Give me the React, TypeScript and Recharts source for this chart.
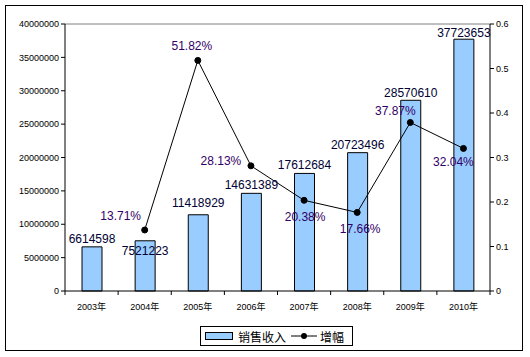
import {
  ComposedChart,
  Bar,
  Line,
  XAxis,
  YAxis,
  LabelList,
  ReferenceLine,
} from "recharts";

const years = ["2003年", "2004年", "2005年", "2006年", "2007年", "2008年", "2009年", "2010年"];
const revenue = [6614598, 7521223, 11418929, 14631389, 17612684, 20723496, 28570610, 37723653];
const growth = [null, 0.1371, 0.5182, 0.2813, 0.2038, 0.1766, 0.3787, 0.3204];
const leftTicks = [0, 5000000, 10000000, 15000000, 20000000, 25000000, 30000000, 35000000, 40000000];
const rightTicks = [0, 0.1, 0.2, 0.3, 0.4, 0.5, 0.6];

const data = years.map((year, i) => ({ year, revenue: revenue[i], growth: growth[i] }));

// label nudges, matching the hand-placed labels of the original
const barLabelDy = [-8, 10, -12, -8, -8, -8, -7, -6];
const pctLabelOffset = [
  [0, 0],
  [-24, -14],
  [-6, -14],
  [-30, -5],
  [1, 17],
  [3, 17],
  [-15, -11],
  [-10, 14],
];

const W = 530;
const H = 357;
const LEFT_W = 65;
const RIGHT_W = 40;
const HALF_BAND = (W - LEFT_W - RIGHT_W) / years.length / 2;

const FONT = "'Liberation Sans', Arial, 'Noto Sans CJK SC', sans-serif";
const tickStyle = { fill: "#000", fontSize: 9, fontFamily: FONT };

const YearTick = (props: any) => {
  const { x, y, payload, index } = props;
  return (
    <g>
      <line x1={x - HALF_BAND} y1={y} x2={x - HALF_BAND} y2={y + 4} stroke="#000" />
      {index === years.length - 1 && (
        <line x1={x + HALF_BAND} y1={y} x2={x + HALF_BAND} y2={y + 4} stroke="#000" />
      )}
      <text x={x} y={y + 19} textAnchor="middle" {...tickStyle}>
        {payload.value}
      </text>
    </g>
  );
};

const BarLabel = (props: any) => {
  const { x, y, width, value, index } = props;
  return (
    <text
      x={x + width / 2}
      y={y + barLabelDy[index]}
      textAnchor="middle"
      dominantBaseline="central"
      fontSize={12}
      fontFamily={FONT}
      fill="#000033"
    >
      {value}
    </text>
  );
};

const PctLabel = (props: any) => {
  const { x, y, value, index } = props;
  if (value == null) return null;
  const [dx, dy] = pctLabelOffset[index];
  return (
    <text
      x={x + dx}
      y={y + dy}
      textAnchor="middle"
      dominantBaseline="central"
      fontSize={12}
      fontFamily={FONT}
      fill="#330066"
    >
      {(value * 100).toFixed(2)}%
    </text>
  );
};

const LegendBox = () => (
  <div
    style={{
      position: "absolute",
      left: 200,
      top: 326,
      display: "flex",
      alignItems: "center",
      border: "1px solid #000",
      height: 20,
      width: 153,
      boxSizing: "border-box",
      fontFamily: FONT,
      fontSize: 12,
      background: "#fff",
    }}
  >
    <span
      style={{
        display: "inline-block",
        width: 26,
        height: 6,
        background: "#99CCFF",
        border: "1px solid #000",
        marginLeft: 4,
        marginRight: 5,
      }}
    />
    <span>销售收入</span>
    <svg width={26} height={10} style={{ marginLeft: 5, marginRight: 3 }}>
      <line x1={0} y1={5} x2={26} y2={5} stroke="#000" strokeWidth={1} />
      <circle cx={13} cy={5} r={3} fill="#000" />
    </svg>
    <span>增幅</span>
  </div>
);

export default function App() {
  return (
    <div style={{ position: "fixed", left: 0, top: 0, width: W, height: H, background: "#fff" }}>
      <div
        style={{
          position: "absolute",
          left: 5,
          top: 5,
          width: 516,
          height: 344,
          border: "1px solid #000",
        }}
      />
      <ComposedChart
        width={W}
        height={H}
        data={data}
        margin={{ top: 24, right: 0, left: 0, bottom: 36 }}
        style={{ position: "absolute", left: 0, top: 0 }}
      >
        <XAxis
          dataKey="year"
          height={30}
          tick={YearTick}
          tickLine={false}
          tickSize={0}
          tickMargin={0}
          interval={0}
          axisLine={{ stroke: "#000" }}
        />
        <YAxis
          yAxisId="left"
          width={LEFT_W}
          domain={[0, 40000000]}
          ticks={leftTicks}
          interval={0}
          tick={tickStyle}
          tickSize={4}
          axisLine={{ stroke: "#000" }}
          tickLine={{ stroke: "#000" }}
        />
        <YAxis
          yAxisId="right"
          orientation="right"
          width={RIGHT_W}
          domain={[0, 0.6]}
          ticks={rightTicks}
          interval={0}
          tick={tickStyle}
          tickSize={4}
          axisLine={{ stroke: "#000" }}
          tickLine={{ stroke: "#000" }}
        />
        <ReferenceLine yAxisId="left" y={40000000} stroke="#808080" />
        <Bar
          yAxisId="left"
          dataKey="revenue"
          name="销售收入"
          barSize={20}
          fill="#99CCFF"
          stroke="#000"
          strokeWidth={1}
          isAnimationActive={false}
        >
          <LabelList dataKey="revenue" content={BarLabel} />
        </Bar>
        <Line
          yAxisId="right"
          dataKey="growth"
          name="增幅"
          stroke="#000"
          strokeWidth={1}
          dot={{ r: 3, fill: "#000", stroke: "#000" }}
          isAnimationActive={false}
        >
          <LabelList dataKey="growth" content={PctLabel} />
        </Line>
      </ComposedChart>
      <LegendBox />
    </div>
  );
}
